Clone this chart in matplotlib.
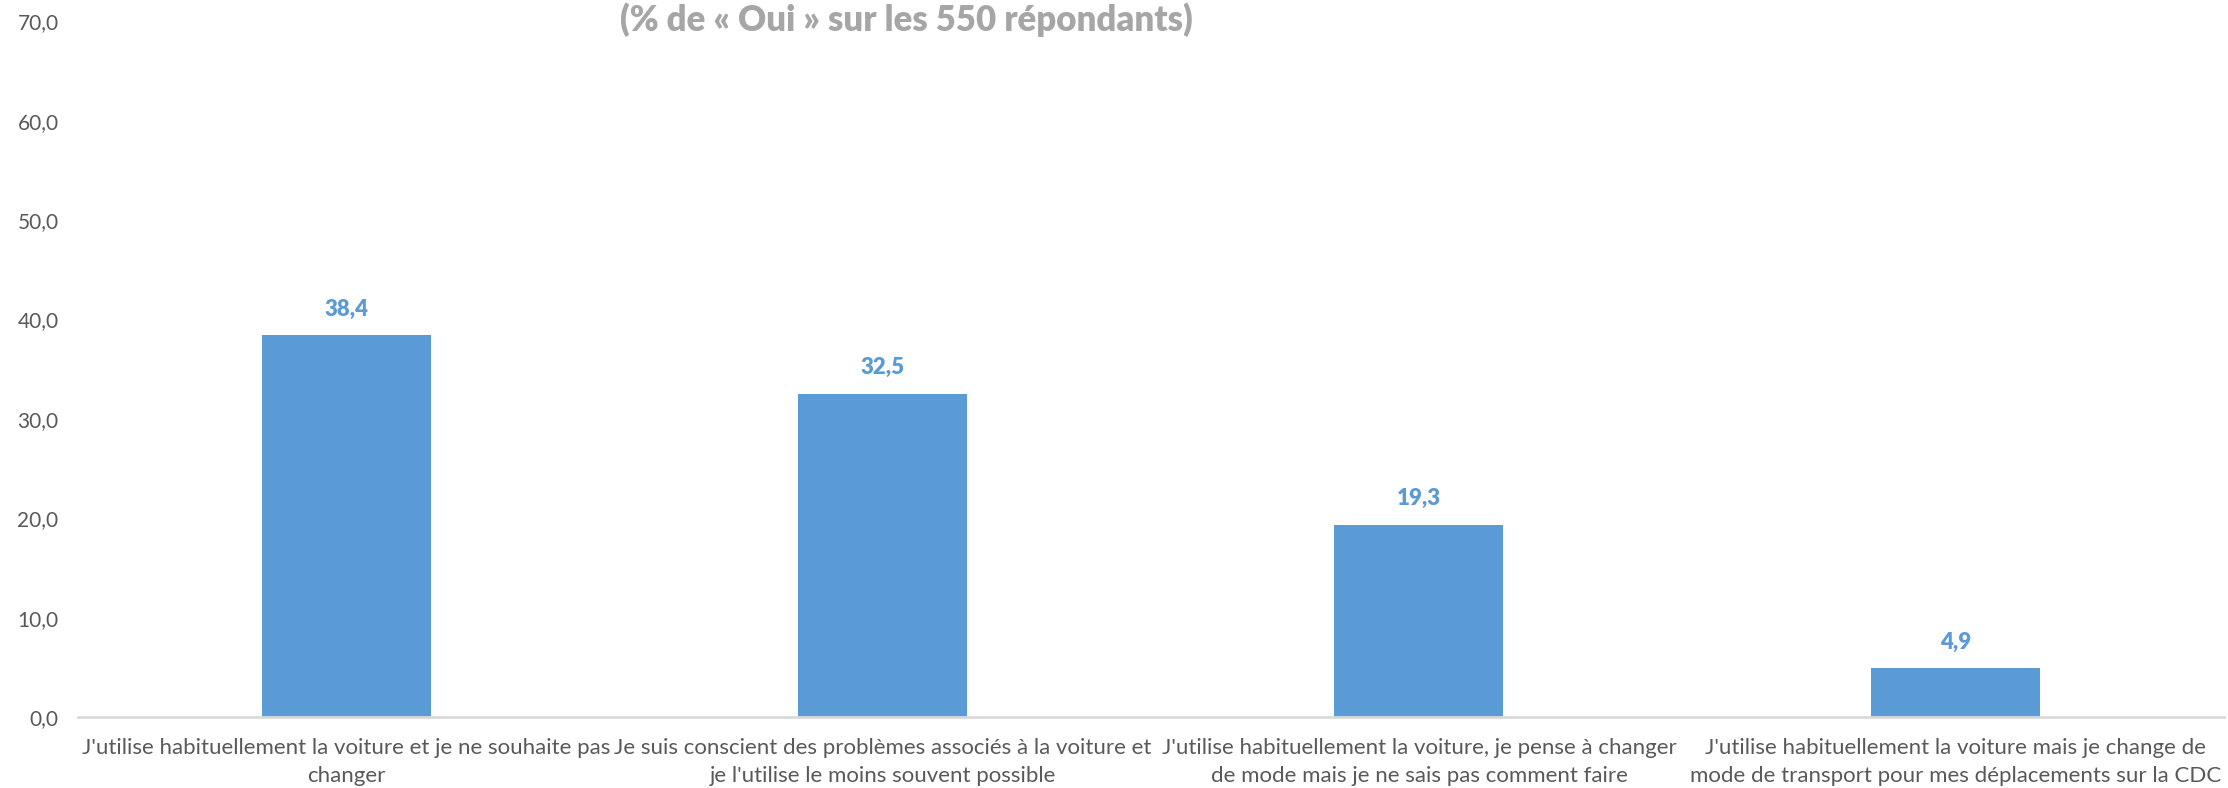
import matplotlib.pyplot as plt
import numpy as np

# Data
categories = [
    "J'utilise habituellement la voiture et je ne souhaite pas\nchanger",
    "Je suis conscient des problèmes associés à la voiture et\nje l'utilise le moins souvent possible",
    "J'utilise habituellement la voiture, je pense à changer\nde mode mais je ne sais pas comment faire",
    "J'utilise habituellement la voiture mais je change de\nmode de transport pour mes déplacements sur la CDC",
]
values = [38.4, 32.5, 19.3, 4.9]
yticks = [0, 10, 20, 30, 40, 50, 60, 70]
title = "(% de « Oui » sur les 550 répondants)"

blue = '#5B9BD5'
plt.rcParams['font.family'] = ['Lato', 'DejaVu Sans']

fig = plt.figure(figsize=(22.28, 7.88), dpi=100)
ax = fig.add_axes([0.035, 0.09, 0.963, 0.883])

x = np.arange(len(values))
ax.bar(x, values, width=0.315, color=blue, zorder=2)
for xi, v in zip(x, values):
    ax.text(xi, v + 1.6, f"{v:.1f}".replace('.', ','), ha='center', va='bottom',
            color=blue, fontsize=16, fontweight='heavy')

ax.set_xlim(-0.5, len(values) - 0.5)
ax.set_ylim(0, 70)
ax.set_yticks(yticks)
ax.set_yticklabels([f"{t:.1f}".replace('.', ',') for t in yticks], fontsize=15, color='#595959')
ax.set_xticks(x)
ax.set_xticklabels(categories, fontsize=16, color='#595959', linespacing=1.5)
ax.tick_params(length=0)
ax.tick_params(axis='x', pad=15)
ax.tick_params(axis='y', pad=14)
for s in ['top', 'right', 'left']:
    ax.spines[s].set_visible(False)
ax.spines['bottom'].set_color('#D9D9D9')
ax.spines['bottom'].set_linewidth(2)

fig.text(0.407, 0.975, title, ha='center', va='center', fontsize=25,
         fontweight='heavy', color='#A6A6A6')

fig.savefig('out.png', dpi=100)
